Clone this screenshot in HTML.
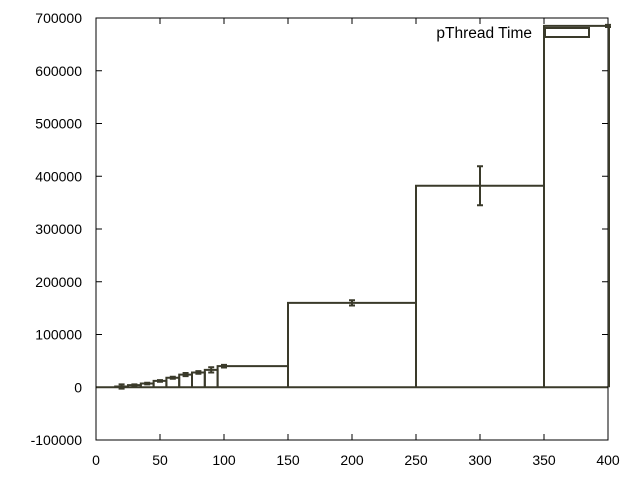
<!DOCTYPE html>
<html><head><meta charset="utf-8"><style>body{margin:0;background:#fff}svg{display:block}text{font-family:"Liberation Sans",sans-serif;font-size:14px;fill:#000}</style></head>
<body>
<svg id="c" width="640" height="480"></svg>
<script>
const xs=[20,30,40,50,60,70,80,90,100,200,300,400];
const vals=[1500,4000,7000,12000,18000,24000,28000,33000,40000,160000,382000,685000];
const errs=[4000,1500,1500,1500,2000,3000,2500,5000,2500,5000,37000,2000];
const xTicks=[0,50,100,150,200,250,300,350,400];
const yTicks=[-100000,0,100000,200000,300000,400000,500000,600000,700000];
const L=96,R=608,T=18,B=440;
const X=v=>L+(v-0)/400*(R-L);
const Y=v=>B-(v+100000)/800000*(B-T);
const svg=document.getElementById('c');const NS='http://www.w3.org/2000/svg';
function mk(t,a,p){const e=document.createElementNS(NS,t);for(const k in a)e.setAttribute(k,a[k]);(p||svg).appendChild(e);return e;}
const C='#3a3a2a';
const g=mk('g',{});
xTicks.forEach(v=>{mk('line',{x1:X(v),x2:X(v),y1:B,y2:B-6,stroke:'#000'},g);mk('line',{x1:X(v),x2:X(v),y1:T,y2:T+6,stroke:'#000'},g);
 const t=mk('text',{x:X(v),y:B+25,'text-anchor':'middle'},g);t.textContent=v;});
yTicks.forEach(v=>{mk('line',{x1:L,x2:L+6,y1:Y(v),y2:Y(v),stroke:'#000'},g);mk('line',{x1:R,x2:R-6,y1:Y(v),y2:Y(v),stroke:'#000'},g);
 const t=mk('text',{x:L-14,y:Y(v)+5,'text-anchor':'end'},g);t.textContent=v;});
mk('line',{x1:L,x2:R,y1:Y(0),y2:Y(0),stroke:C,'stroke-width':2},g);
const sg=mk('g',{});
xs.forEach((x,i)=>{
 const lo=i==0?x-(xs[1]-xs[0])/2:(xs[i-1]+x)/2;
 const hi=i==xs.length-1?x+(x-xs[i-1])/2:(xs[i+1]+x)/2;
 const x1=X(lo),x2=Math.min(X(hi),R+1);
 const r=mk('path',{d:`M${x1},${Y(0)}V${Y(vals[i])}H${x2}V${Y(0)}`,fill:'none',stroke:C,'stroke-width':2},sg);
 
 const cx=X(x);
 const e=mk('path',{d:`M${cx},${Y(vals[i]-errs[i])}V${Y(vals[i]+errs[i])}M${cx-3},${Y(vals[i]-errs[i])}h6M${cx-3},${Y(vals[i]+errs[i])}h6`,stroke:C,'stroke-width':2,fill:'none'},sg);
 
});
mk('rect',{x:L,y:T,width:R-L,height:B-T,fill:'none',stroke:'#000'},g);
const lg=mk('g',{});
const lt=mk('text',{x:532,y:38,'text-anchor':'end',style:'font-size:15.5px'},lg);lt.textContent='pThread Time';
mk('rect',{x:545,y:28,width:44,height:9,fill:'none',stroke:C,'stroke-width':2},lg);
</script>
</body></html>
